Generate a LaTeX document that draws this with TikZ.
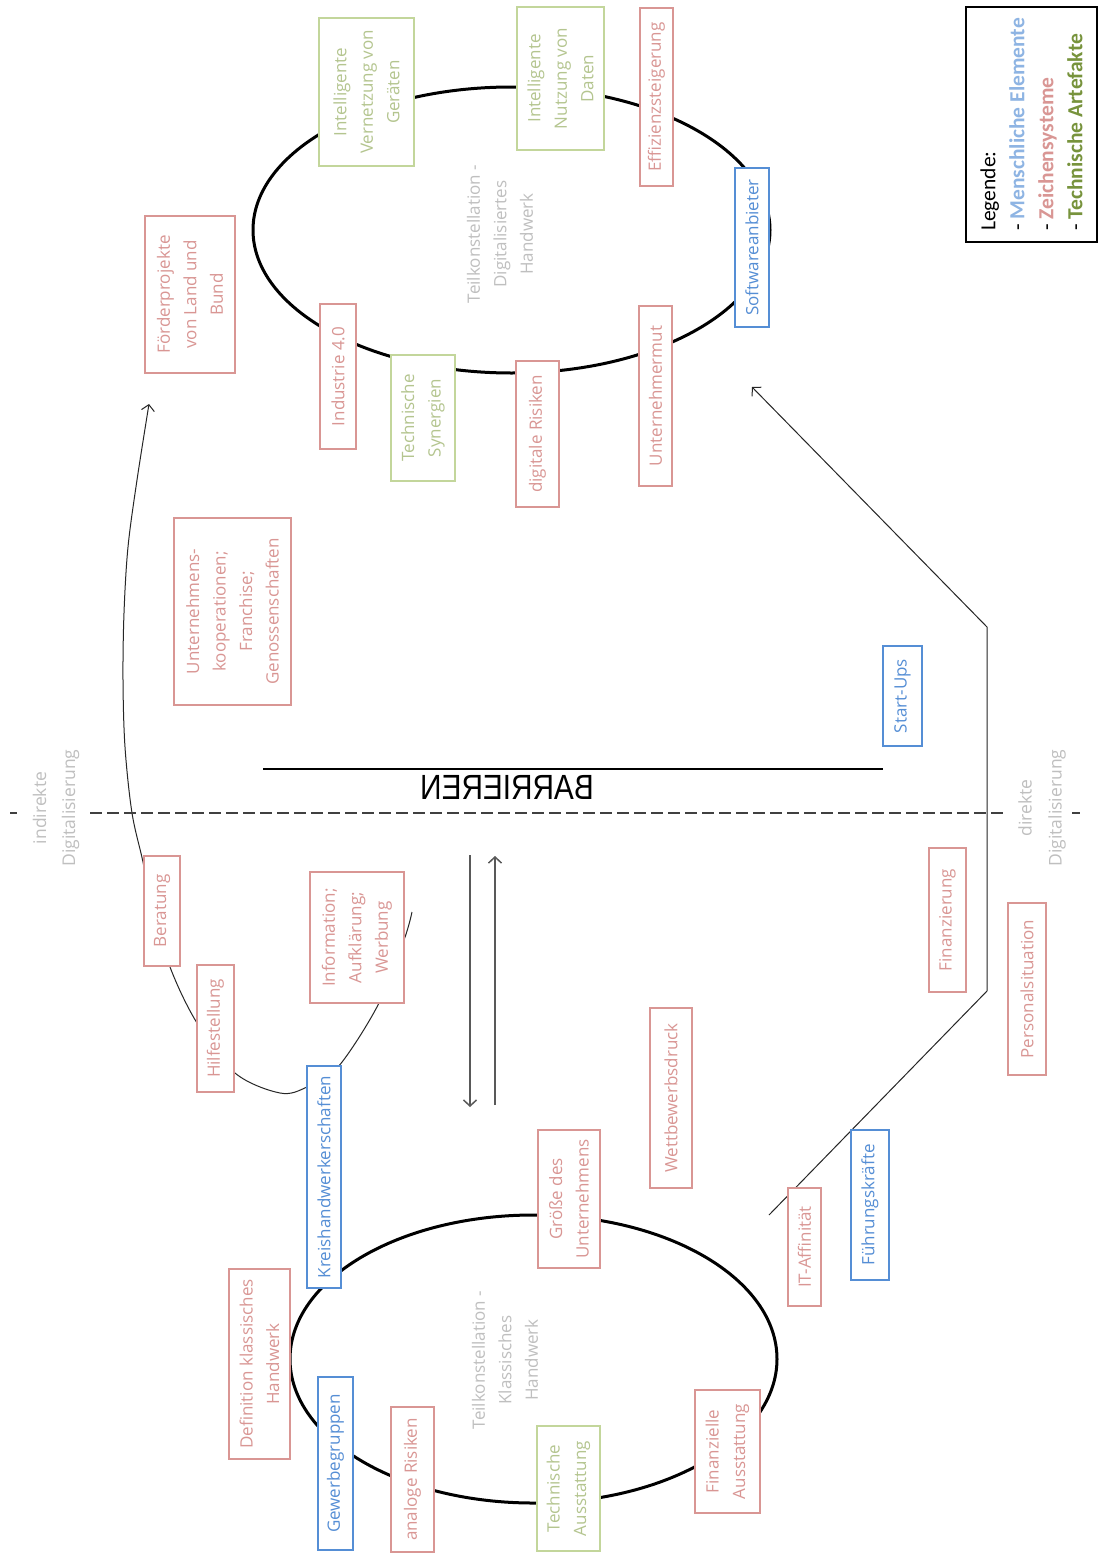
\documentclass[tikz,border=0pt]{standalone}
\usepackage{fontspec}
\setmainfont{Open Sans}
\newfontfamily\legfont{Carlito}
\newfontfamily\barfont{Liberation Sans}
\usetikzlibrary{arrows.meta}
\definecolor{cred}{HTML}{D99694}
\definecolor{cblue}{HTML}{558ED5}
\definecolor{cgreen}{HTML}{C3D69B}
\definecolor{cgray}{HTML}{BFBFBF}
\definecolor{lblue}{HTML}{8EB4E3}
\definecolor{lgreen}{HTML}{77933C}
\definecolor{lred}{HTML}{D99694}
\begin{document}
\begin{tikzpicture}[x=1pt,y=-1pt,
 box/.style={draw, line width=2.5pt, fill=white, rotate=90, inner sep=0pt, align=center, font=\fontsize{17}{26.5}\selectfont},
 rbox/.style={box, draw=cred, text=cred},
 bbox/.style={box, draw=cblue, text=cblue},
 gbox/.style={box, draw=cgreen, text=cgreen!92!black},
 graytext/.style={rotate=90, text=cgray, align=center, inner sep=0pt, font=\fontsize{17}{26.5}\selectfont},
 conn/.style={line width=1pt, draw=black!85},
 tipo/.style={-{Straight Barb[length=6pt,width=13pt]}},
 ring/.style={line width=3pt, draw=black}
]
\useasboundingbox[fill=white] (0,0) rectangle (1099,1555);

% ellipses
\draw[ring] (511.5,230) ellipse [x radius=258.5, y radius=143];
\draw[ring] (533.5,1359) ellipse [x radius=243.5, y radius=144];

% coordinates for free ends
\coordinate (cstart) at (412,912);
\coordinate (cend) at (149,404);
\coordinate (lstart) at (769,1215);
\coordinate (lk1) at (987,991);
\coordinate (lk2) at (987,627);
\coordinate (lend) at (752,387);
\coordinate (adtop) at (470,855);
\coordinate (adbot) at (470,1107);
\coordinate (aubot) at (495,1105);
\coordinate (autop) at (495,856);
\coordinate (bl) at (263,769);
\coordinate (br) at (883,769);

% indirect curve
\draw[conn, tipo] plot[smooth, tension=0.55] coordinates {(cstart) (404,940) (378,1005) (338,1067) (307,1087) (280,1093) (235,1073) (197,1023) (170,967) (150,900) (143,862) (132,813) (125,747) (123,680) (124,613) (128,547) (137,480) (cend)};

% direct line
\draw[conn, tipo] (lstart) -- (lk1) -- (lk2) -- (lend);

% middle arrows
\draw[line width=1.5pt, draw=black!65, tipo] (adtop) -- (adbot);
\draw[line width=1.5pt, draw=black!65, tipo] (aubot) -- (autop);

% dashed separator
\draw[line width=1.5pt, draw=black!75, dash pattern=on 12pt off 5pt] (90,813) -- (1005,813);
\draw[line width=1.5pt, draw=black!75] (10,813) -- (17,813);
\draw[line width=1.5pt, draw=black!75] (1072,813) -- (1080,813);

% barrier line and label
\draw[line width=1.3pt] (bl) -- (br);
\node[font=\barfont\fontsize{35}{35}\selectfont, xscale=-0.85, inner sep=0pt] (barr) at (507,787) {BARRIEREN};

% labels of the separator
\node[graytext, font=\fontsize{17.5}{29}\selectfont] (indir) at (56,808) {indirekte\\Digitalisierung};
\node[graytext, font=\fontsize{17.5}{30}\selectfont] (dir) at (1042,808) {direkte\\Digitalisierung};

% ellipse titles
\node[graytext] (tkd) at (500,234) {Teilkonstellation -\\Digitalisiertes\\Handwerk};
\node[graytext] (tkk) at (505,1360) {Teilkonstellation -\\Klassisches\\Handwerk};

% top constellation
\node[gbox, minimum width=148, minimum height=95] (vernetzung) at (366.5,92) {Intelligente\\Vernetzung von\\Geräten};
\node[gbox, minimum width=143, minimum height=87] (nutzung) at (560.5,78.5) {Intelligente\\Nutzung von\\Daten};
\node[rbox, minimum width=178, minimum height=33] (effizienz) at (656.5,97) {Effizienzsteigerung};
\node[bbox, minimum width=159, minimum height=34] (softw) at (752,247.5) {Softwareanbieter};
\node[rbox, minimum width=180, minimum height=33] (mut) at (655.5,396) {Unternehmermut};
\node[rbox, minimum width=146, minimum height=43] (digris) at (537.5,434) {digitale Risiken};
\node[gbox, minimum width=126, minimum height=64] (synergien) at (423,418) {Technische\\Synergien};
\node[rbox, minimum width=145, minimum height=36] (industrie) at (338,376.5) {Industrie 4.0};
\node[rbox, minimum width=157, minimum height=90] (foerder) at (190,294.5) {Förderprojekte\\von Land und\\Bund};
\node[rbox, minimum width=187, minimum height=117] (koop) at (232.5,611.5) {Unternehmens-\\kooperationen;\\Franchise;\\Genossenschaften};

% right side
\node[bbox, minimum width=100, minimum height=39] (startups) at (902.5,696) {Start-Ups};
\node[rbox, minimum width=144, minimum height=37] (finanzierung) at (947.5,920) {Finanzierung};
\node[rbox, minimum width=172, minimum height=38] (personal) at (1027,989) {Personalsituation};

% indirect path boxes
\node[rbox, minimum width=110, minimum height=36] (beratung) at (162,911) {Beratung};
\node[rbox, minimum width=127, minimum height=37] (hilfe) at (215.5,1028.5) {Hilfestellung};
\node[rbox, minimum width=131, minimum height=94] (info) at (357,937.5) {Information;\\Aufklärung;\\Werbung};

% bottom constellation
\node[bbox, minimum width=222, minimum height=34] (kreis) at (324,1177) {Kreishandwerkerschaften};
\node[rbox, minimum width=180, minimum height=42] (wettbewerb) at (671,1098) {Wettbewerbsdruck};
\node[rbox, minimum width=138, minimum height=62] (groesse) at (569,1199) {Größe des\\Unternehmens};
\node[rbox, minimum width=118, minimum height=33] (itaff) at (804.5,1247) {IT-Affinität};
\node[bbox, minimum width=150, minimum height=38] (fuehrung) at (870,1205) {Führungskräfte};
\node[rbox, minimum width=190, minimum height=61] (definition) at (259.5,1364) {Definition klassisches\\Handwerk};
\node[bbox, minimum width=173, minimum height=35] (gewerbe) at (335.5,1463.5) {Gewerbegruppen};
\node[rbox, minimum width=145, minimum height=43] (analog) at (412.5,1479.5) {analoge Risiken};
\node[gbox, minimum width=125, minimum height=63] (techaus) at (568.5,1488.5) {Technische\\Ausstattung};
\node[rbox, minimum width=123, minimum height=65] (finaus) at (727.5,1451.5) {Finanzielle\\Ausstattung};

% legend
\node[draw=black, line width=2.5pt, fill=white, rotate=90, inner sep=0pt, minimum width=235, minimum height=131, align=left, font=\legfont\fontsize{21.5}{29}\selectfont] (legend) at (1031.5,124.5)
 {Legende:\\- \textcolor{lblue}{\textbf{Menschliche Elemente}}\\- \textcolor{lred}{\textbf{Zeichensysteme}}\\- \textcolor{lgreen}{\textbf{Technische Artefakte}}};
\end{tikzpicture}
\end{document}
